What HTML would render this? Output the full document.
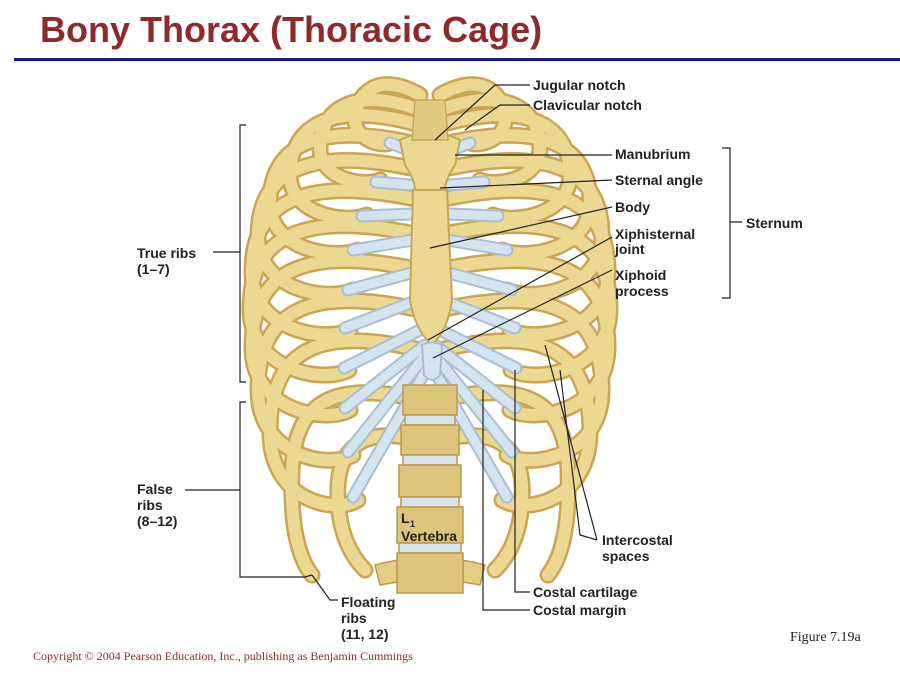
<!DOCTYPE html>
<html><head><meta charset="utf-8"><style>
body{margin:0;background:#fff;width:900px;height:675px;overflow:hidden;position:relative;font-family:"Liberation Sans",sans-serif}
h1{position:absolute;left:40px;top:9px;margin:0;font-size:36px;font-weight:bold;color:#8e2a2a}
.rule{position:absolute;left:14px;top:58px;width:886px;height:3px;background:#1a1a8c}
svg{position:absolute;left:0;top:0}
</style></head><body>
<h1>Bony Thorax (Thoracic Cage)</h1>
<div class="rule"></div>
<svg width="900" height="675" viewBox="0 0 900 675">
<defs>
<g id="ribsL" fill="none" stroke-linecap="round">
 <g stroke="#c9a654" stroke-width="17">
  <path d="M420 95 C377 70 355 95 355 120 C355 140 385 150 396 140"/>
  <path d="M420 110 C353 85 320 110 320 148 C320 180 364 187 380 180"/>
  <path d="M420 125 C332 100 290 125 290 175 C290 215 346 224 367 215"/>
  <path d="M420 145 C318 120 270 145 270 203 C270 250 334 260 358 250"/>
  <path d="M420 170 C310 145 258 170 258 236 C258 290 327 302 353 290"/>
  <path d="M420 200 C305 175 252 200 252 272 C252 330 323 343 350 330"/>
  <path d="M420 235 C304 210 250 235 250 309 C250 370 322 384 349 370"/>
  <path d="M420 270 C305 245 252 270 252 347 C252 410 323 424 350 410"/>
  <path d="M420 310 C310 285 258 310 258 390 C258 455 327 470 353 455"/>
  <path d="M420 350 C318 325 270 350 270 432 C270 500 334 515 358 500"/>
  <path d="M420 400 C335 380 295 400 292 470 C290 530 300 560 312 575"/>
  <path d="M420 440 C360 425 335 450 338 500 C340 540 355 560 365 570"/>
 </g>
 <g stroke="#ecd890" stroke-width="12">
  <path d="M420 95 C377 70 355 95 355 120 C355 140 385 150 396 140"/>
  <path d="M420 110 C353 85 320 110 320 148 C320 180 364 187 380 180"/>
  <path d="M420 125 C332 100 290 125 290 175 C290 215 346 224 367 215"/>
  <path d="M420 145 C318 120 270 145 270 203 C270 250 334 260 358 250"/>
  <path d="M420 170 C310 145 258 170 258 236 C258 290 327 302 353 290"/>
  <path d="M420 200 C305 175 252 200 252 272 C252 330 323 343 350 330"/>
  <path d="M420 235 C304 210 250 235 250 309 C250 370 322 384 349 370"/>
  <path d="M420 270 C305 245 252 270 252 347 C252 410 323 424 350 410"/>
  <path d="M420 310 C310 285 258 310 258 390 C258 455 327 470 353 455"/>
  <path d="M420 350 C318 325 270 350 270 432 C270 500 334 515 358 500"/>
  <path d="M420 400 C335 380 295 400 292 470 C290 530 300 560 312 575"/>
  <path d="M420 440 C360 425 335 450 338 500 C340 540 355 560 365 570"/>
 </g>
 <g stroke="#a9bfd0" stroke-width="13">
  <path d="M390 143 L408 150"/><path d="M376 182 L410 185"/><path d="M362 216 L412 214"/>
  <path d="M353 250 L413 240"/><path d="M348 290 L415 272"/><path d="M345 328 L418 300"/>
  <path d="M344 368 L420 330"/><path d="M345 408 L425 345"/><path d="M348 452 L428 352"/><path d="M353 497 L432 360"/>
 </g>
 <g stroke="#d3e3ef" stroke-width="9">
  <path d="M390 143 L408 150"/><path d="M376 182 L410 185"/><path d="M362 216 L412 214"/>
  <path d="M353 250 L413 240"/><path d="M348 290 L415 272"/><path d="M345 328 L418 300"/>
  <path d="M344 368 L420 330"/><path d="M345 408 L425 345"/><path d="M348 452 L428 352"/><path d="M353 497 L432 360"/>
 </g>
</g>
</defs>
<use href="#ribsL"/>
<use href="#ribsL" transform="translate(860,0) scale(-1,1)"/>
<g stroke="#b89a4a" stroke-width="1.5">
 <rect x="403" y="385" width="54" height="30" fill="#dcc47a"/>
 <rect x="405" y="415" width="50" height="10" fill="#d6e4ee"/>
 <rect x="401" y="425" width="58" height="30" fill="#dcc47a"/>
 <rect x="403" y="455" width="54" height="10" fill="#d6e4ee"/>
 <rect x="399" y="465" width="62" height="32" fill="#dcc47a"/>
 <rect x="401" y="497" width="58" height="10" fill="#d6e4ee"/>
 <rect x="397" y="507" width="66" height="36" fill="#dcc47a"/>
 <rect x="399" y="543" width="62" height="10" fill="#d6e4ee"/>
 <path d="M375 565 Q430 550 485 565 L480 585 Q430 575 380 585 Z" fill="#e3cd85"/>
 <rect x="397" y="553" width="66" height="40" fill="#dcc47a"/>
</g>
<path d="M400 140 Q430 125 460 140 L455 165 Q445 180 445 190 L430 190 L415 190 Q415 180 405 165 Z" fill="#ecd890" stroke="#c9a654" stroke-width="2"/>
<path d="M413 190 L447 190 L452 300 Q448 330 432 345 Q415 330 410 300 Z" fill="#ecd890" stroke="#c9a654" stroke-width="2"/>
<path d="M422 345 Q432 340 442 345 L440 375 Q432 385 424 375 Z" fill="#d3e3ef" stroke="#a9bfd0" stroke-width="2"/>
<path d="M415 100 L445 100 L448 140 L412 140 Z" fill="#e0ca80" stroke="#c9a654" stroke-width="1.5"/>
<g stroke="#222" stroke-width="1.2" fill="none">
 <path d="M530 85 L495 85 L435 140"/>
 <path d="M530 105 L500 105 L465 130"/>
 <path d="M612 155 L455 155"/>
 <path d="M612 180 L440 188"/>
 <path d="M612 207 L430 248"/>
 <path d="M612 237 L428 340"/>
 <path d="M612 270 L433 358"/>
 <path d="M722 148 L730 148 L730 298 L722 298 M730 222 L742 222"/>
 <path d="M246 125 L240 125 L240 382 L246 382 M240 252 L213 252"/>
 <path d="M246 402 L240 402 L240 577 L305 577 L312 575"/>
 <path d="M240 490 L185 490"/>
 <path d="M312 575 L330 600 L338 600"/>
 <path d="M597 540 L580 535 L560 370"/>
 <path d="M597 540 L545 345"/>
 <path d="M530 592 L515 592 L515 370"/>
 <path d="M530 610 L483 610 L483 390"/>
</g>
<g font-family="Liberation Sans,sans-serif" font-weight="bold" font-size="14" fill="#222">
 <text x="533" y="90">Jugular notch</text>
 <text x="533" y="110">Clavicular notch</text>
 <text x="615" y="159">Manubrium</text>
 <text x="615" y="185">Sternal angle</text>
 <text x="615" y="212">Body</text>
 <text x="615" y="239">Xiphisternal</text><text x="615" y="254">joint</text>
 <text x="615" y="280">Xiphoid</text><text x="615" y="296">process</text>
 <text x="746" y="228">Sternum</text>
 <text x="137" y="258">True ribs</text><text x="137" y="274">(1–7)</text>
 <text x="137" y="494">False</text><text x="137" y="510">ribs</text><text x="137" y="526">(8–12)</text>
 <text x="401" y="523">L</text><text x="410" y="527" font-size="9">1</text>
 <text x="401" y="541">Vertebra</text>
 <text x="602" y="545">Intercostal</text><text x="602" y="561">spaces</text>
 <text x="533" y="597">Costal cartilage</text>
 <text x="533" y="615">Costal margin</text>
 <text x="341" y="607">Floating</text><text x="341" y="623">ribs</text><text x="341" y="639">(11, 12)</text>
</g>
<text x="790" y="641" font-family="Liberation Serif,serif" font-size="14" fill="#222">Figure 7.19a</text>
<text x="33" y="660" font-family="Liberation Serif,serif" font-size="12" fill="#8e2a2a">Copyright © 2004 Pearson Education, Inc., publishing as Benjamin Cummings</text>
</svg>
</body></html>
